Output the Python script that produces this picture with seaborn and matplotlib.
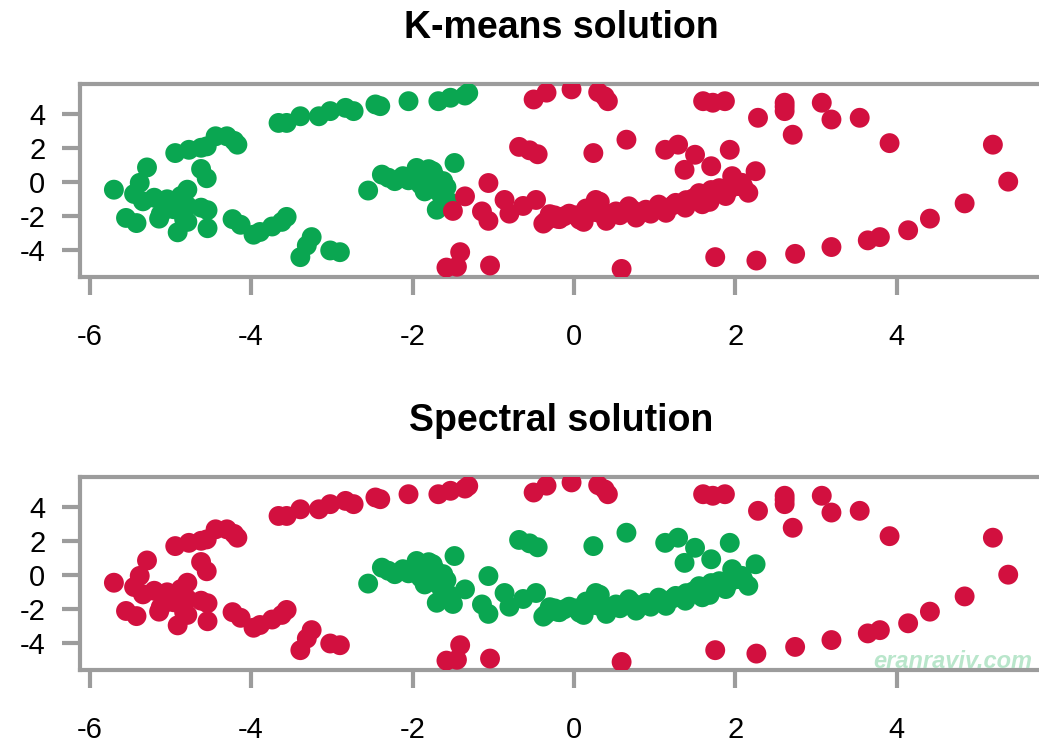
import numpy as np
import pandas as pd
import matplotlib
matplotlib.use("Agg")
import matplotlib.pyplot as plt
import seaborn as sns

sns.set_style("white")
plt.rcParams['font.family'] = ['Liberation Sans', 'DejaVu Sans']
plt.rcParams['text.color'] = 'black'

GREEN = '#0aa651'
RED = '#d2103f'
AXIS_GREY = '#9c9c9c'

# outer spiral arm, part that k-means put in the green group
outer_km_green_x = [-5.70, -5.29, -5.38, -5.45, -5.34, -5.20, -5.04, -4.87, -4.79, -4.96,
                    -4.79, -4.62, -4.54, -5.12, -5.55, -5.42, -5.14, -4.92, -5.04, -4.83,
                    -4.91, -4.54, -4.79, -4.23, -4.13, -3.97, -3.89, -3.74, -3.62, -3.56,
                    -3.25, -3.31, -3.39, -3.02, -2.90, -4.62, -4.55, -4.94, -4.77, -4.62,
                    -4.55, -4.44, -4.30, -4.21, -4.17, -3.66, -3.56, -3.39, -3.16, -3.02,
                    -2.83, -2.73, -2.46, -2.40, -2.05, -1.68, -1.53, -1.35, -1.31]
outer_km_green_y = [-0.45, 0.85, -0.05, -0.70, -1.13, -0.92, -1.01, -0.82, -0.45, -1.59,
                    -1.40, -1.50, -1.65, -1.88, -2.10, -2.40, -2.14, -1.45, -1.55, -2.17,
                    -2.94, -2.70, -2.33, -2.17, -2.50, -3.08, -2.92, -2.60, -2.33, -2.04,
                    -3.22, -3.71, -4.39, -4.00, -4.10, 0.76, 0.22, 1.69, 1.88, 2.00,
                    2.08, 2.67, 2.67, 2.40, 2.18, 3.45, 3.45, 3.84, 3.84, 4.14,
                    4.33, 4.14, 4.53, 4.43, 4.72, 4.72, 4.92, 5.05, 5.20]

# outer spiral arm, part that k-means put in the red group
outer_km_red_x = [-0.50, -0.34, -0.03, 0.30, 0.38, 0.42, 1.60, 1.72, 1.87, 2.28,
                  2.61, 2.61, 2.61, 2.71, 3.07, 3.19, 3.54, 3.91, 5.19, 5.38,
                  4.84, 4.41, 4.14, 3.79, 3.64, 3.19, 2.74, 2.26, 1.75, 0.59,
                  -1.04, -1.41, -1.58, -1.45]
outer_km_red_y = [4.82, 5.22, 5.41, 5.25, 5.00, 4.72, 4.72, 4.63, 4.72, 3.75,
                  4.63, 4.40, 4.14, 2.76, 4.63, 3.65, 3.75, 2.27, 2.18, 0.02,
                  -1.25, -2.14, -2.82, -3.22, -3.41, -3.80, -4.20, -4.59, -4.39, -5.08,
                  -4.88, -4.10, -5.00, -4.95]

# inner spiral arm, green in k-means
inner_km_green_x = [-2.55, -2.38, -2.30, -2.22, -2.12, -2.05, -1.95, -1.90, -1.85, -1.80,
                    -1.75, -1.72, -1.85, -1.75, -1.64, -1.58, -1.54, -1.70, -1.48, -1.62]
inner_km_green_y = [-0.50, 0.43, 0.25, 0.05, 0.34, 0.10, 0.82, -0.15, 0.40, 0.75,
                    0.63, 0.30, -0.55, -0.40, -0.82, -0.30, -1.18, -1.62, 1.11, 0.05]

# inner spiral arm, red in k-means
inner_km_red_x = [-1.50, -1.35, -1.06, -1.14, -1.06, -0.86, -0.80, -0.63, -0.47, -0.35,
                  -0.24, -0.30, -0.18, -0.06, 0.07, 0.15, 0.27, 0.31, 0.40, 0.52,
                  0.68, 0.77, 0.89, 1.05, 1.14, 1.26, 1.38, 1.55, 1.59, 1.80,
                  1.88, 1.96, 2.04, 2.16, 2.25, 1.70, 1.37, 1.50, 1.29, 1.13,
                  1.93, 0.65, 0.24, -0.68, -0.55, -0.45, 1.68, 1.81, 1.56, 2.00,
                  2.10, -0.38, -0.21, 0.12, 0.24, 0.32, 0.57, 0.73, 0.86, 1.06,
                  1.23, 1.39, 1.70, -0.12, 0.02, 0.45, 0.95, 1.48, 1.92, 2.08]
inner_km_red_y = [-1.69, -0.84, -0.06, -1.72, -2.27, -1.05, -1.85, -1.40, -1.05, -2.30,
                  -1.95, -1.88, -2.17, -1.85, -2.20, -1.55, -1.05, -1.80, -2.27, -1.72,
                  -1.42, -2.08, -1.62, -1.32, -1.80, -1.22, -1.50, -0.65, -1.30, -0.36,
                  -0.82, 0.34, -0.24, -0.63, 0.63, 0.92, 0.71, 1.59, 2.18, 1.88,
                  1.88, 2.47, 1.69, 2.05, 1.85, 1.62, -1.16, -0.65, -0.76, -0.10,
                  -0.30, -2.43, -2.14, -2.33, -1.75, -1.16, -1.94, -1.65, -1.75, -1.45,
                  -1.35, -1.06, -0.47, -2.00, -1.95, -1.90, -1.85, -0.95, -0.45, -0.05]

x_ticks = [-6, -4, -2, 0, 2, 4]
y_ticks = [-4, -2, 0, 2, 4]

rows = []
for xs, ys, arm, km in [(outer_km_green_x, outer_km_green_y, 'outer', 'g'),
                        (outer_km_red_x, outer_km_red_y, 'outer', 'r'),
                        (inner_km_green_x, inner_km_green_y, 'inner', 'g'),
                        (inner_km_red_x, inner_km_red_y, 'inner', 'r')]:
    for a, b in zip(xs, ys):
        rows.append({'x': a, 'y': b, 'kmeans': km,
                     'spectral': 'r' if arm == 'outer' else 'g'})
df = pd.DataFrame(rows)

fig = plt.figure(figsize=(10.39, 7.42), dpi=100)
ax_top = fig.add_axes([0.077, 0.6267, 0.926, 0.260])
ax_bot = fig.add_axes([0.077, 0.0970, 0.926, 0.260])

palette = {'g': GREEN, 'r': RED}

for ax, col, title in [(ax_top, 'kmeans', 'K-means solution'),
                       (ax_bot, 'spectral', 'Spectral solution')]:
    sns.scatterplot(data=df, x='x', y='y', hue=col, palette=palette, ax=ax,
                    s=205, linewidth=0, legend=False, zorder=3)
    ax.set_xlim(-6.12, 5.80)
    ax.set_ylim(-5.55, 5.72)
    ax.set_xticks(x_ticks)
    ax.set_yticks(y_ticks)
    ax.set_xticklabels([str(v) for v in x_ticks])
    ax.set_yticklabels([str(v) for v in y_ticks])
    ax.set_xlabel('')
    ax.set_ylabel('')
    for sp in ax.spines.values():
        sp.set_color(AXIS_GREY)
        sp.set_linewidth(3)
    ax.tick_params(axis='both', which='major', direction='out', length=13, width=3,
                   color=AXIS_GREY, labelsize=21, labelcolor='black',
                   bottom=True, left=True, top=False, right=False)
    ax.tick_params(axis='x', pad=20)
    ax.tick_params(axis='y', pad=12)
    ax.set_title(title, fontsize=27, fontweight='bold', pad=33, color='black')
    ax.grid(False)

fig.text(1032 / 1039, 1 - 661 / 742, 'eranraviv.com', ha='right', va='center',
         fontsize=17, fontstyle='italic', fontweight='bold', color='#b9e6cb')

fig.savefig('out.png', dpi=100)
